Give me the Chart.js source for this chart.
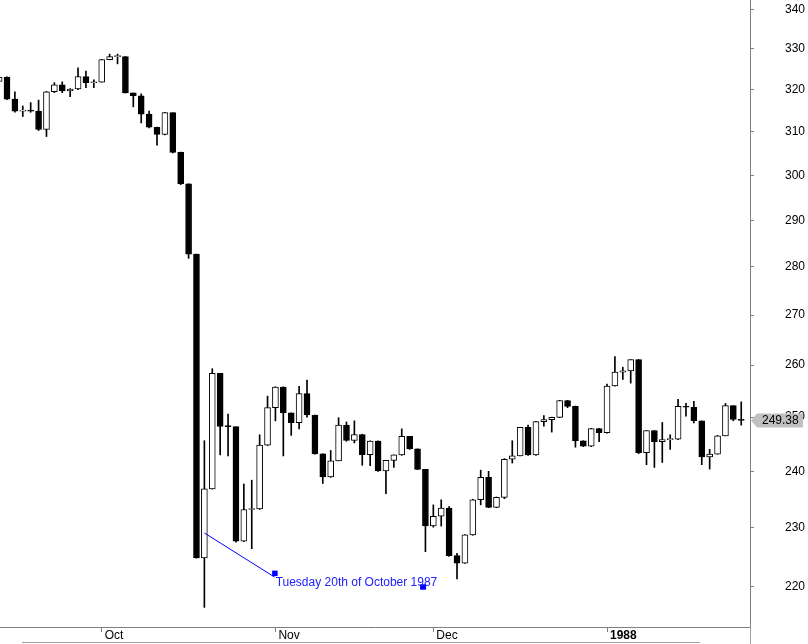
<!DOCTYPE html>
<html>
<head>
<meta charset="utf-8">
<title>S&amp;P 500 daily, Sep 1987 - Jan 1988</title>
<script src="https://cdn.jsdelivr.net/npm/chart.js@4.4.0/dist/chart.umd.min.js"></script>
<style>
  html, body { margin: 0; padding: 0; background: #fff; }
  #wrap { width: 808px; height: 644px; }
</style>
</head>
<body>
<div id="wrap"><canvas id="chart" width="808" height="644"></canvas></div>
<script>
// one entry per trading day, 14 Sep 1987 .. 27 Jan 1988
const dates = [
  "1987-09-14","1987-09-15","1987-09-16","1987-09-17","1987-09-18","1987-09-21","1987-09-22","1987-09-23",
  "1987-09-24","1987-09-25","1987-09-28","1987-09-29","1987-09-30","1987-10-01","1987-10-02","1987-10-05",
  "1987-10-06","1987-10-07","1987-10-08","1987-10-09","1987-10-12","1987-10-13","1987-10-14","1987-10-15",
  "1987-10-16","1987-10-19","1987-10-20","1987-10-21","1987-10-22","1987-10-23","1987-10-26","1987-10-27",
  "1987-10-28","1987-10-29","1987-10-30","1987-11-02","1987-11-03","1987-11-04","1987-11-05","1987-11-06",
  "1987-11-09","1987-11-10","1987-11-11","1987-11-12","1987-11-13","1987-11-16","1987-11-17","1987-11-18",
  "1987-11-19","1987-11-20","1987-11-23","1987-11-24","1987-11-25","1987-11-27","1987-11-30","1987-12-01",
  "1987-12-02","1987-12-03","1987-12-04","1987-12-07","1987-12-08","1987-12-09","1987-12-10","1987-12-11",
  "1987-12-14","1987-12-15","1987-12-16","1987-12-17","1987-12-18","1987-12-21","1987-12-22","1987-12-23",
  "1987-12-24","1987-12-28","1987-12-29","1987-12-30","1987-12-31","1988-01-04","1988-01-05","1988-01-06",
  "1988-01-07","1988-01-08","1988-01-11","1988-01-12","1988-01-13","1988-01-14","1988-01-15","1988-01-18",
  "1988-01-19","1988-01-20","1988-01-21","1988-01-22","1988-01-25","1988-01-26","1988-01-27"
];

const open = [
  321.98, 323.08, 317.74, 314.86, 314.93, 314.86, 310.54, 319.50,
  321.19, 319.72, 320.16, 323.20, 321.69, 321.83, 327.33, 328.07,
  328.08, 319.22, 318.54, 314.16, 311.07, 309.39, 314.52, 305.23,
  298.08, 282.70, 224.84, 236.83, 258.38, 248.25, 248.22, 227.67,
  233.19, 233.28, 244.77, 251.79, 255.75, 250.82, 248.96, 254.48,
  250.41, 243.17, 239.00, 241.90, 248.52, 245.64, 246.76, 243.04,
  245.55, 240.05, 242.00, 242.99, 246.39, 244.10, 240.34, 230.30,
  232.00, 233.45, 225.21, 223.92, 228.76, 234.91, 238.89, 233.57,
  235.32, 242.19, 242.81, 248.08, 242.98, 249.16, 249.54, 249.95,
  253.16, 252.03, 245.57, 244.59, 247.86, 247.08, 255.94, 258.63,
  258.89, 261.07, 243.40, 247.49, 245.42, 245.81, 245.88, 252.05,
  251.88, 249.32, 242.63, 243.14, 246.50, 252.17, 249.57
];

const high = [
  323.9, 323.1, 319.5, 316.1, 316.9, 317.5, 319.6, 321.7,
  321.9, 320.3, 325.3, 324.5, 322.4, 327.4, 328.7, 328.7,
  328.1, 319.2, 319.0, 314.9, 311.1, 314.6, 314.5, 305.3,
  298.1, 282.7, 245.6, 259.3, 258.4, 250.6, 248.2, 237.7,
  238.4, 246.7, 254.0, 255.8, 255.8, 250.8, 255.9, 257.1,
  250.4, 243.2, 243.8, 249.9, 249.1, 249.3, 246.8, 245.6,
  245.6, 242.0, 243.0, 247.8, 246.4, 244.1, 240.3, 234.0,
  234.9, 233.7, 225.6, 228.8, 235.0, 240.2, 240.0, 235.4,
  242.3, 245.6, 248.1, 248.5, 249.2, 250.3, 250.0, 253.2,
  253.2, 252.1, 245.6, 247.9, 247.9, 256.3, 261.7, 259.6,
  261.1, 261.1, 247.5, 247.5, 249.0, 246.7, 253.4, 252.6,
  253.0, 249.3, 244.0, 246.6, 252.6, 252.2, 252.9
];

const low = [
  321.5, 317.6, 314.6, 313.6, 314.6, 310.3, 308.9, 319.3,
  319.3, 318.3, 320.0, 320.5, 320.5, 321.8, 327.3, 326.3,
  319.2, 315.9, 312.1, 310.9, 306.9, 309.3, 305.1, 297.9,
  281.8, 224.8, 216.6, 236.8, 243.0, 242.8, 227.5, 227.6,
  226.4, 233.2, 244.7, 249.3, 242.8, 246.6, 247.8, 250.0,
  243.1, 237.8, 238.9, 241.9, 245.5, 245.2, 241.1, 241.0,
  240.0, 236.0, 240.7, 242.9, 244.0, 240.3, 225.9, 230.1,
  230.3, 225.1, 221.3, 223.9, 228.7, 234.0, 233.5, 233.5,
  235.1, 241.5, 242.8, 242.9, 242.9, 248.3, 247.2, 249.9,
  251.8, 244.4, 244.5, 244.5, 245.4, 247.0, 255.9, 257.2,
  256.5, 243.2, 241.2, 240.7, 241.6, 244.0, 245.8, 250.2,
  248.9, 241.2, 240.4, 243.1, 246.5, 249.3, 248.5
];

const close = [
  323.08, 317.74, 314.86, 314.93, 314.86, 310.54, 319.50, 321.19,
  319.72, 320.16, 323.20, 321.69, 321.83, 327.33, 328.07, 328.08,
  319.22, 318.54, 314.16, 311.07, 309.39, 314.52, 305.23, 298.08,
  282.70, 224.84, 236.83, 258.38, 248.25, 248.22, 227.67, 233.19,
  233.28, 244.77, 251.79, 255.75, 250.82, 248.96, 254.48, 250.41,
  243.17, 239.00, 241.90, 248.52, 245.64, 246.76, 243.04, 245.55,
  240.05, 242.00, 242.99, 246.39, 244.10, 240.34, 230.30, 232.00,
  233.45, 225.21, 223.92, 228.76, 234.91, 238.89, 233.57, 235.32,
  242.19, 242.81, 248.08, 242.98, 249.16, 249.54, 249.95, 253.16,
  252.03, 245.57, 244.59, 247.86, 247.08, 255.94, 258.63, 258.89,
  261.07, 243.40, 247.49, 245.42, 245.81, 245.88, 252.05, 251.88,
  249.32, 242.63, 243.14, 246.50, 252.17, 249.57, 249.38
];

// axis ticks
const yTicks = [220, 230, 240, 250, 260, 270, 280, 290, 300, 310, 320, 330, 340];
const monthTickIdx = [13, 35, 55, 77];
const monthTickLabels = ["Oct", "Nov", "Dec", "1988"];

// text note drawn on the chart (bar index, price)
const noteText = "Tuesday 20th of October 1987";
const noteFrom = [26, 229.1];
const noteTo = [34.9, 221.6];
const noteEnd = [53.7, 220.0];

const wickData = dates.map((d, i) => ({ x: i, y: [low[i], high[i]] }));
const bodyData = dates.map((d, i) => ({ x: i, y: [open[i], close[i]] }));
const bodyFill = dates.map((d, i) => (close[i] >= open[i] ? "#ffffff" : "#000000"));

Chart.defaults.font.family = '"Liberation Sans", Arial, sans-serif';
Chart.defaults.font.size = 12;
Chart.defaults.color = "#000";

const overlay = {
  id: "overlay",
  afterDraw(chart) {
    const { ctx, chartArea } = chart;
    const xs = chart.scales.x, ys = chart.scales.y;
    ctx.save();

    // axis line stub under the date axis and the strip line at the bottom
    ctx.strokeStyle = "#a0a0a0";
    ctx.lineWidth = 1;
    ctx.beginPath();
    ctx.moveTo(chartArea.right + 0.5, chartArea.bottom);
    ctx.lineTo(chartArea.right + 0.5, chart.height);
    ctx.moveTo(22, 642.5);
    ctx.lineTo(700, 642.5);
    ctx.stroke();

    // note line, handles and text
    const x0 = xs.getPixelForValue(noteFrom[0]), y0 = ys.getPixelForValue(noteFrom[1]);
    const x1 = xs.getPixelForValue(noteTo[0]), y1 = ys.getPixelForValue(noteTo[1]);
    const x2 = xs.getPixelForValue(noteEnd[0]), y2 = ys.getPixelForValue(noteEnd[1]);
    ctx.strokeStyle = "#0000ff";
    ctx.beginPath();
    ctx.moveTo(x0, y0);
    ctx.lineTo(x1, y1);
    ctx.stroke();
    ctx.fillStyle = "#0000ff";
    ctx.fillRect(x1 - 2.5, y1 - 6.5, 5.5, 5.5);
    ctx.fillRect(x2 - 3, y2 - 2.5, 6, 5.5);
    ctx.font = '12px "Liberation Sans", Arial, sans-serif';
    ctx.textBaseline = "alphabetic";
    ctx.textAlign = "left";
    ctx.fillStyle = "#2020ff";
    ctx.fillText(noteText, x1 + 1, y1 + 8.5);

    // last price marker on the price axis
    const last = close[close.length - 1];
    const yl = ys.getPixelForValue(last);
    const left = chartArea.right + 1;
    ctx.fillStyle = "#c0c0c0";
    ctx.beginPath();
    ctx.moveTo(left, yl);
    ctx.lineTo(left + 6, yl - 7);
    ctx.lineTo(803, yl - 7);
    ctx.lineTo(803, yl + 7);
    ctx.lineTo(left + 6, yl + 7);
    ctx.closePath();
    ctx.fill();
    ctx.fillStyle = "#000";
    ctx.textBaseline = "middle";
    ctx.fillText(last.toFixed(2), left + 11, yl + 0.5);

    ctx.restore();
  }
};

new Chart(document.getElementById("chart"), {
  type: "bar",
  data: {
    datasets: [
      {
        label: "range",
        data: wickData,
        backgroundColor: "#000000",
        barThickness: 1,
        order: 2
      },
      {
        label: "body",
        data: bodyData,
        backgroundColor: bodyFill,
        borderColor: "#000000",
        borderWidth: 1,
        borderSkipped: false,
        barThickness: 6,
        minBarLength: 1,
        order: 1
      }
    ]
  },
  options: {
    responsive: false,
    animation: false,
    layout: { padding: 0 },
    plugins: {
      legend: { display: false },
      tooltip: { enabled: false }
    },
    scales: {
      x: {
        type: "linear",
        stacked: true,
        offset: false,
        min: 0.114,
        max: 95.11,
        grid: { offset: false, drawOnChartArea: false, tickLength: 5, color: "#808080" },
        border: { color: "#808080" },
        ticks: {
          autoSkip: false,
          maxRotation: 0,
          align: "start",
          labelOffset: 3,
          padding: -4,
          color: "#000",
          font: (c) => ({ size: 12, weight: monthTickLabels[c.index] === "1988" ? "bold" : "normal" }),
          callback: (v, i) => monthTickLabels[i]
        },
        afterBuildTicks: (s) => { s.ticks = monthTickIdx.map((v) => ({ value: v })); },
        afterFit: (s) => { s.height = 17; s.paddingLeft = 0; s.paddingRight = 0; }
      },
      y: {
        type: "logarithmic",
        position: "right",
        min: 213.42,
        max: 342.39,
        grid: { drawOnChartArea: false, tickLength: 4, color: "#808080" },
        border: { color: "#808080" },
        ticks: {
          padding: 31,
          crossAlign: "near",
          color: "#000",
          callback: (v) => String(v)
        },
        afterBuildTicks: (s) => { s.ticks = yTicks.map((v) => ({ value: v })); },
        afterFit: (s) => { s.width = 58; s.paddingTop = 0; s.paddingBottom = 0; }
      }
    }
  },
  plugins: [overlay]
});
</script>
</body>
</html>
